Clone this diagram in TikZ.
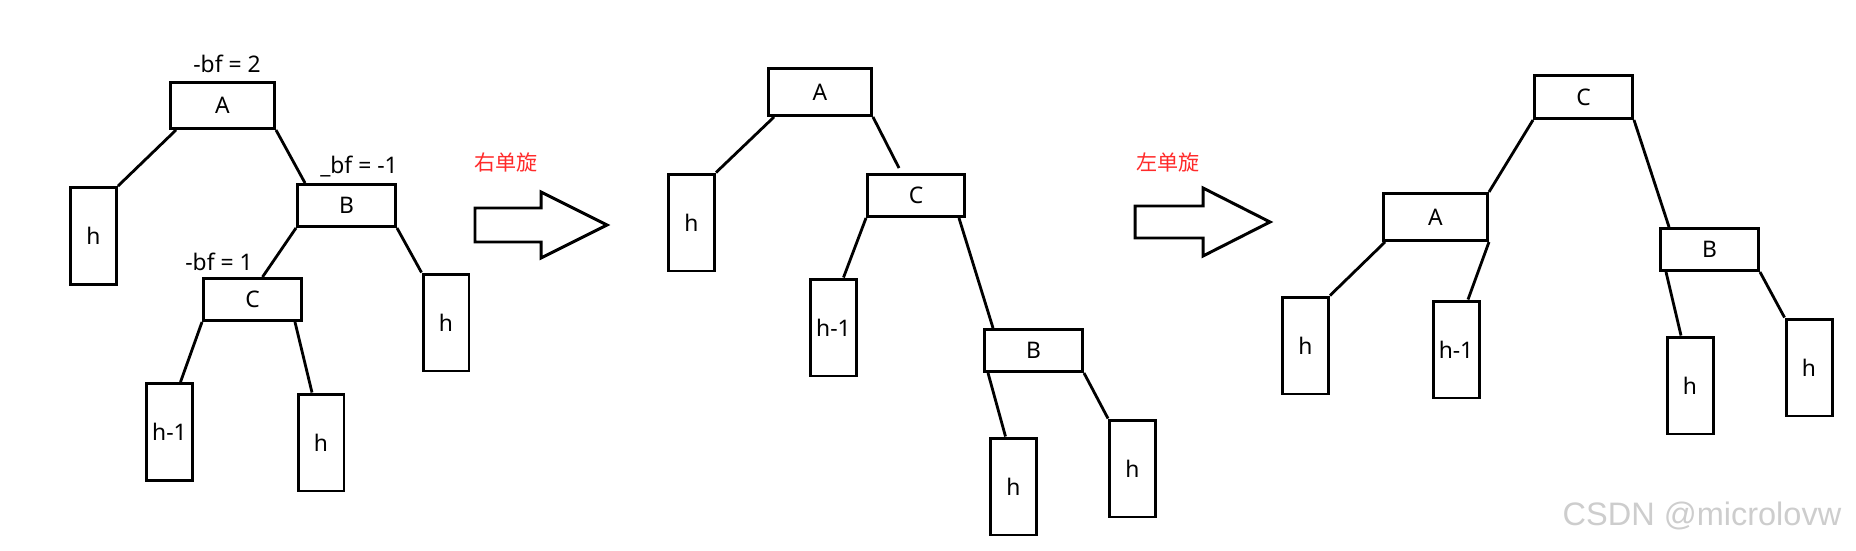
\documentclass[tikz,border=0pt]{standalone}
\usepackage{fontspec}
\setmainfont{Noto Sans}
\newfontfamily\cjk{Noto Sans CJK SC}
\newfontfamily\wmfont{Liberation Sans}
\usetikzlibrary{positioning,calc}
\definecolor{rotRed}{HTML}{FF2A2A}
\definecolor{wmGray}{HTML}{CDCDCD}

\begin{document}
\begin{tikzpicture}[x=0.02cm,y=-0.02cm,font=\fontsize{13}{15}\selectfont,
  keybox/.style 2 args={draw,line width=1.7pt,inner sep=0pt,
        minimum width=#1,minimum height=#2},
  subtree/.style={draw,line width=1.7pt,inner sep=0pt,
        minimum width=0.92cm,minimum height=1.94cm},
  link/.style={line width=1.6pt},
  bfnote/.style={inner sep=1pt},
  turn/.style={text=rotRed,font=\cjk\fontsize{12}{14}\selectfont},
  bigarrow/.style={line width=1.7pt,line join=miter}]
  \useasboundingbox (0,0) rectangle (1856,551);

  % unbalanced tree
  \node[keybox={2.08cm}{0.92cm}] (A1) at (222.5,105.5) {A};
  \node[subtree] (A1l) at (93.5,236) {h};
  \node[keybox={1.96cm}{0.84cm}] (B1) at (346.5,205.5) {B};
  \node[subtree] (B1r) at (446,322.5) {h};
  \node[keybox={1.96cm}{0.84cm}] (C1) at (252.5,299.5) {C};
  \node[subtree] (C1l) at (169.5,432) {h-1};
  \node[subtree] (C1r) at (321,442.5) {h};
  \node[bfnote] (bfA) at (227,64) {-bf = 2};
  \node[bfnote] (bfB) at (359,167) {\_bf = -1};
  \node[bfnote] (bfC) at (219,262) {-bf = 1};
  \draw[link] ($(A1.south west)+(7,0)$) -- (A1l.north east);
  \draw[link] (A1.south east) -- ($(B1.north west)+(9,0)$);
  \draw[link] (B1.south west) -- ($(C1.north)+(10,0)$);
  \draw[link] (B1.south east) -- (B1r.north west);
  \draw[link] (C1.south west) -- ($(C1l.north)+(11,0)$);
  \draw[link] ($(C1.south east)+(-8,0)$) -- ($(C1r.north)+(-9,0)$);

  % right rotation
  \node[turn] (rotR) at (506,162) {右单旋};
  \draw[bigarrow] (475,208) -- (541,208) -- (541,192) -- (607,225)
    -- (541,258) -- (541,242) -- (475,242) -- cycle;

  % after right rotation
  \node[keybox={2.06cm}{0.94cm}] (A2) at (820,92) {A};
  \node[subtree] (A2l) at (691.5,222.5) {h};
  \node[keybox={1.94cm}{0.84cm}] (C2) at (916,195.5) {C};
  \node[subtree] (C2l) at (833.5,327.5) {h-1};
  \node[keybox={1.96cm}{0.84cm}] (B2) at (1033.5,350.5) {B};
  \node[subtree] (B2l) at (1013.5,486.5) {h};
  \node[subtree] (B2r) at (1132.5,468.5) {h};
  \draw[link] ($(A2.south west)+(7,0)$) -- (A2l.north east);
  \draw[link] (A2.south east) -- ($(C2.north)+(-17,-5)$);
  \draw[link] (C2.south west) -- ($(C2l.north)+(10,0)$);
  \draw[link] ($(C2.south east)+(-7,0)$) -- ($(B2.north west)+(10,0)$);
  \draw[link] ($(B2.south west)+(5,0)$) -- ($(B2l.north)+(-8,0)$);
  \draw[link] (B2.south east) -- (B2r.north west);

  % left rotation
  \node[turn] (rotL) at (1168,162) {左单旋};
  \draw[bigarrow] (1135,206) -- (1203,206) -- (1203,188) -- (1270,222)
    -- (1203,256) -- (1203,238) -- (1135,238) -- cycle;

  % balanced tree
  \node[keybox={1.96cm}{0.86cm}] (C3) at (1583.5,97) {C};
  \node[keybox={2.08cm}{0.94cm}] (A3) at (1435.5,217) {A};
  \node[subtree] (A3l) at (1305.5,345.5) {h};
  \node[subtree] (A3r) at (1456,349.5) {h-1};
  \node[keybox={1.96cm}{0.84cm}] (B3) at (1709.5,249.5) {B};
  \node[subtree] (B3l) at (1690,385.5) {h};
  \node[subtree] (B3r) at (1809,367.5) {h};
  \draw[link] (C3.south west) -- (A3.north east);
  \draw[link] ($(A3.south west)+(3,0)$) -- (A3l.north east);
  \draw[link] (A3.south east) -- ($(A3r.north)+(12,0)$);
  \draw[link] (C3.south east) -- ($(B3.north west)+(10,0)$);
  \draw[link] ($(B3.south west)+(7,0)$) -- ($(B3l.north)+(-9,0)$);
  \draw[link] (B3.south east) -- (B3r.north west);

  \node[text=wmGray,font=\wmfont\fontsize{18.5}{22}\selectfont] (mark) at (1702,516) {CSDN @microlovw};
\end{tikzpicture}
\end{document}
